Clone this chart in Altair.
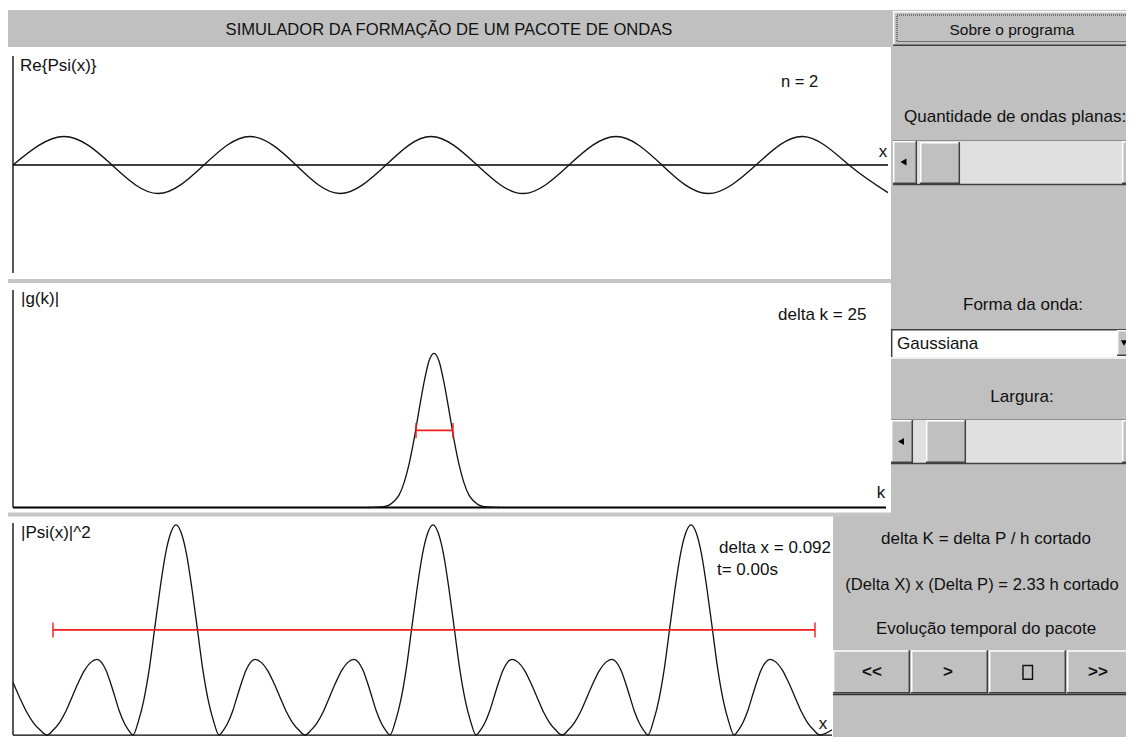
import altair as alt
import pandas as pd

# ---------------- values ----------------
# Re{Psi(x)}: zero crossings and extrema along the x axis (axis length 875)
re_x = [0, 51, 99, 145, 191, 237, 283, 327, 373, 418, 464, 510, 556, 603, 649, 695, 743, 790, 836, 875]
re_v = [0, 1, 0, -1, 0, 1, 0, -1, 0, 1, 0, -1, 0, 1, 0, -1, 0, 1, 0, -0.97]

# |g(k)| : gaussian amplitude read along the k axis (axis length 873)
g_k = [355, 371, 376, 381, 386, 391, 396, 401, 406, 411, 416, 421, 426, 431, 436, 441, 446, 451, 456, 461, 466, 471, 487]
g_v = [0, 0.006, 0.015, 0.04, 0.08, 0.16, 0.28, 0.44, 0.63, 0.81, 0.95, 1.0, 0.95, 0.81, 0.63, 0.44,
       0.28, 0.16, 0.08, 0.04, 0.015, 0.006, 0]
dk_bar = [403, 440]          # red "delta k" bar, at half height
dk_level = 0.5

# |Psi(x)|^2 : lobes (left zero, peak, right zero, relative height), axis length 819
psi2_left = [-59, 34, 120, 206, 292, 377, 463, 549, 635, 721]
psi2_peak = [-21, 84, 163, 242, 341, 420, 499, 599, 678, 757]
psi2_right = [34, 120, 206, 292, 377, 463, 549, 635, 721, 807]
psi2_height = [0.36, 0.36, 1.0, 0.36, 0.36, 1.0, 0.36, 0.36, 1.0, 0.36]
lobe_u = [0, 0.125, 0.25, 0.375, 0.5, 0.625, 0.75, 0.875, 1.0]
lobe_shape = [1.0, 0.96, 0.855, 0.69, 0.5, 0.31, 0.165, 0.065, 0.0]
psi2_start = (0, 0.25)
psi2_end = (819, 0.025)
dx_bar = [40, 802]           # red "delta x" bar, at half height
dx_level = 0.5

# ---------------- tables ----------------
re_df = pd.DataFrame({"x": re_x, "v": re_v})
g_df = pd.DataFrame({"k": g_k, "g": g_v})
pts = {}
for l, p, r, h in zip(psi2_left, psi2_peak, psi2_right, psi2_height):
    for u, s in zip(lobe_u, lobe_shape):
        for xv in (p - u * (p - l), p + u * (r - p)):
            key = round(xv, 2)
            pts[key] = max(pts.get(key, 0.0), h * s)
pts = {k: v for k, v in pts.items() if psi2_start[0] < k < psi2_end[0]}
pts[psi2_start[0]] = psi2_start[1]
pts[psi2_end[0]] = psi2_end[1]
psi_df = pd.DataFrame(sorted(pts.items()), columns=["x", "p"])
dk_df = pd.DataFrame({"a": [dk_bar[0]], "b": [dk_bar[1]], "y": [dk_level]})
dk_ends = pd.DataFrame({"a": dk_bar, "y": [dk_level] * 2})
dx_df = pd.DataFrame({"a": [dx_bar[0]], "b": [dx_bar[1]], "y": [dx_level]})
dx_ends = pd.DataFrame({"a": dx_bar, "y": [dx_level] * 2})

# ---------------- layout helpers (screen of the applet) ----------------
W, H = 1118, 729
def px(x):
    return x - 8
def py(y):
    page = y if y <= 517 else 517 + (y - 517) * (218.0 / 222.4)
    return page - 8

FONT = "Liberation Sans, Arial, Helvetica, sans-serif"
GRAY = "#c0c0c0"
DARK = "#404040"
RED = "#f01c1c"
ONE = alt.Data(values=[{"a": 1}])
layers = []

def box(x0, y0, x1, y1, fill, stroke=None, sw=1.0, dash=None):
    kw = {"fill": fill} if fill else {"fillOpacity": 0}
    if stroke:
        kw.update(stroke=stroke, strokeWidth=sw)
    if dash:
        kw["strokeDash"] = dash
    layers.append(alt.Chart(ONE).mark_rect(**kw).encode(
        x=alt.value(px(x0)), x2=alt.value(px(x1)), y=alt.value(py(y0)), y2=alt.value(py(y1))))

def hline(x0, x1, y, color="#000", sw=1.3):
    layers.append(alt.Chart(ONE).mark_rule(color=color, strokeWidth=sw).encode(
        x=alt.value(px(x0)), x2=alt.value(px(x1)), y=alt.value(py(y))))

def vline(x, y0, y1, color="#000", sw=1.3):
    layers.append(alt.Chart(ONE).mark_rule(color=color, strokeWidth=sw).encode(
        x=alt.value(px(x)), y=alt.value(py(y0)), y2=alt.value(py(y1))))

def bevel(x0, y0, x1, y1, face=GRAY):
    box(x0, y0, x1, y1, face)
    hline(x0, x1, y0 + 0.7, "#ffffff", 1.5)
    vline(x0 + 0.7, y0, y1, "#ffffff", 1.5)
    hline(x0, x1, y1 - 0.7, DARK, 1.5)
    vline(x1 - 0.7, y0, y1, DARK, 1.5)

def label(text, x, y, align="left", size=17, weight="normal"):
    layers.append(alt.Chart(ONE).mark_text(
        text=text, align=align, baseline="middle", font=FONT, fontSize=size,
        fontWeight=weight, color="#111").encode(x=alt.value(px(x)), y=alt.value(py(y))))

def tri(shape, x, y, size=48):
    layers.append(alt.Chart(ONE).mark_point(shape=shape, filled=True, size=size, color="#000",
                                            opacity=1).encode(x=alt.value(px(x)), y=alt.value(py(y))))

# ---------------- background chrome ----------------
box(3, 10, 893, 47, GRAY)                 # title bar
box(891, 10, 1134, 745, GRAY)             # right control column
box(833, 513, 1134, 745, GRAY)            # lower right controls
box(6, 279, 891, 283, "#c6c6c6")          # panel separators
box(6, 512.5, 891, 516.5, "#c6c6c6")

# "Sobre o programa" button
bevel(893, 11, 1134, 46)
box(897, 15, 1129.5, 41.5, None, stroke="#222", sw=1, dash=[1, 1])

# slider 1
box(893, 140, 1134, 184, "#e0e0e0")
hline(893, 1134, 140.5, "#8a8a8a", 1)
bevel(893, 141, 917, 184)
bevel(920, 142, 960, 184)
bevel(1122, 141, 1134, 184)
hline(893, 1134, 184.6, DARK, 1.5)
tri("triangle-left", 903.5, 162)

# dropdown
box(891, 329, 1134, 357, "#ffffff")
hline(891, 1134, 329.7, DARK, 1.5)
vline(891.7, 329, 357, DARK, 1.5)
hline(891, 1134, 358, "#ffffff", 1.5)
bevel(1117, 330, 1134, 356)
tri("triangle-down", 1124, 343, 40)

# slider 2
box(891, 419, 1134, 463, "#e0e0e0")
hline(891, 1134, 419.5, "#8a8a8a", 1)
bevel(891, 420, 913, 463)
bevel(926, 420, 966, 463)
bevel(1122, 420, 1134, 463)
hline(891, 1134, 463.6, DARK, 1.5)
tri("triangle-left", 901, 441.5)

# time evolution buttons
bevel(833, 653, 910, 697)
bevel(911, 653, 988, 697)
bevel(989, 653, 1066, 697)
bevel(1067, 653, 1134, 697)
hline(833, 1134, 698, "#303030", 1.5)
box(1023, 668.5, 1032.5, 682.5, None, stroke="#111", sw=1.4)

# axes of the three plots
vline(13, 56, 273)
hline(13, 888, 165)
vline(13, 290, 507.5)
hline(13, 886, 507.5, sw=2)
vline(13, 523, 739.5)
hline(13, 832, 739.5)

# ---------------- data marks (own scales per plot) ----------------
def sc(domain, r0, r1):
    return alt.Scale(domain=domain, range=[r0, r1], nice=False, zero=False)

x1s = lambda: sc([0, 875], px(13), px(888))
y1s = lambda: sc([-1, 1], py(193.5), py(136.5))
x2s = lambda: sc([0, 873], px(13), px(886))
y2s = lambda: sc([0, 1], py(507.5), py(353.3))
x3s = lambda: sc([0, 819], px(13), px(832))
y3s = lambda: sc([0, 1], py(739.4), py(525))

layers.append(alt.Chart(re_df).mark_line(color="#111", strokeWidth=1.3, interpolate="natural").encode(
    x=alt.X("x:Q", scale=x1s(), axis=None), y=alt.Y("v:Q", scale=y1s(), axis=None)))

layers.append(alt.Chart(g_df).mark_line(color="#111", strokeWidth=1.3, interpolate="monotone").encode(
    x=alt.X("k:Q", scale=x2s(), axis=None), y=alt.Y("g:Q", scale=y2s(), axis=None)))
layers.append(alt.Chart(dk_df).mark_rule(color=RED, strokeWidth=1.6).encode(
    x=alt.X("a:Q", scale=x2s(), axis=None), x2="b:Q", y=alt.Y("y:Q", scale=y2s(), axis=None)))
layers.append(alt.Chart(dk_ends).mark_tick(color=RED, orient="vertical", size=15, thickness=2).encode(
    x=alt.X("a:Q", scale=x2s(), axis=None), y=alt.Y("y:Q", scale=y2s(), axis=None)))

layers.append(alt.Chart(psi_df).mark_line(color="#111", strokeWidth=1.3, interpolate="monotone").encode(
    x=alt.X("x:Q", scale=x3s(), axis=None), y=alt.Y("p:Q", scale=y3s(), axis=None)))
layers.append(alt.Chart(dx_df).mark_rule(color=RED, strokeWidth=1.6).encode(
    x=alt.X("a:Q", scale=x3s(), axis=None), x2="b:Q", y=alt.Y("y:Q", scale=y3s(), axis=None)))
layers.append(alt.Chart(dx_ends).mark_tick(color=RED, orient="vertical", size=15, thickness=2).encode(
    x=alt.X("a:Q", scale=x3s(), axis=None), y=alt.Y("y:Q", scale=y3s(), axis=None)))

# ---------------- texts ----------------
label("SIMULADOR DA FORMAÇÃO DE UM PACOTE DE ONDAS", 449, 30, "center", 16.6)
label("Sobre o programa", 1012, 30, "center", 15.5)
label("Re{Psi(x)}", 20, 66)
label("n = 2", 781, 82, size=16.5)
label("x", 883, 152, "center")
label("|g(k)|", 21, 299)
label("delta k = 25", 778, 315)
label("k", 881, 493, "center")
label("|Psi(x)|^2", 21, 533)
label("delta x = 0.092", 719, 549)
label("t= 0.00s", 717, 571)
label("x", 823, 728, "center")
label("Quantidade de ondas planas:", 904, 117)
label("Forma da onda:", 1023, 305, "center")
label("Gaussiana", 897, 344)
label("Largura:", 1022, 397, "center")
label("delta K = delta P / h cortado", 986, 539, "center")
label("(Delta X) x (Delta P) = 2.33 h cortado", 982, 586, "center", 16.6)
label("Evolução temporal do pacote", 986, 631, "center")
label("<<", 872, 675, "center", 17, "bold")
label(">", 948, 675, "center", 17, "bold")
label(">>", 1098, 675, "center", 17, "bold")

chart = alt.layer(*layers).resolve_scale(x="independent", y="independent").properties(
    width=W, height=H, padding=0, autosize=alt.AutoSizeParams(type="none"), background="#ffffff"
).configure_view(stroke=None)

chart.save("out.html", embed_options={"renderer": "svg", "actions": False})
